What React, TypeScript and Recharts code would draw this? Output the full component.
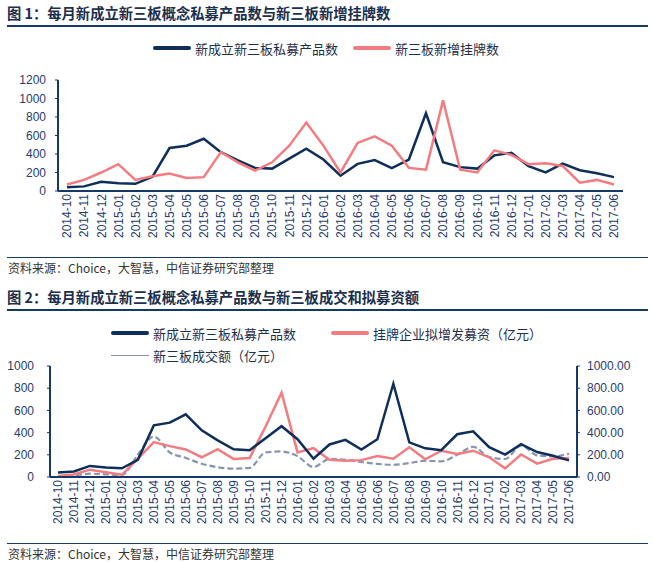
import React from 'react';
import { LineChart, Line, XAxis, YAxis } from 'recharts';

const months = [
  '2014-10', '2014-11', '2014-12', '2015-01', '2015-02', '2015-03', '2015-04', '2015-05',
  '2015-06', '2015-07', '2015-08', '2015-09', '2015-10', '2015-11', '2015-12', '2016-01',
  '2016-02', '2016-03', '2016-04', '2016-05', '2016-06', '2016-07', '2016-08', '2016-09',
  '2016-10', '2016-11', '2016-12', '2017-01', '2017-02', '2017-03', '2017-04', '2017-05',
  '2017-06',
];

// 新成立新三板私募产品数
const newFunds = [
  40, 50, 100, 85, 78, 155, 465, 490, 565, 420, 330, 250, 242, 350, 458, 340,
  165, 293, 335, 248, 340, 840, 312, 258, 242, 385, 412, 268, 202, 296, 225, 192,
  150,
];

// 新三板新增挂牌数
const newListings = [
  70, 120, 200, 290, 120, 160, 190, 140, 150, 420, 310, 220, 310, 490, 740, 490,
  200, 520, 590, 490, 250, 230, 980, 230, 200, 440, 390, 290, 300, 270, 90, 120,
  70,
];

// 挂牌企业拟增发募资（亿元）
const placementPlans = [
  10, 22, 66, 42, 20, 165, 314, 278, 248, 178, 251, 162, 171, 455, 760, 222,
  260, 155, 147, 152, 188, 165, 268, 160, 237, 207, 237, 178, 78, 203, 120, 165,
  172,
];

// 新三板成交额（亿元）
const turnover = [
  6, 15, 30, 24, 18, 200, 365, 221, 172, 120, 88, 76, 82, 222, 230, 188,
  90, 162, 155, 135, 118, 110, 126, 147, 141, 201, 272, 180, 162, 283, 195, 186,
  210,
];

const ticks1 = [0, 200, 400, 600, 800, 1000, 1200];
const ticks2 = [0, 200, 400, 600, 800, 1000];

const NAVY = '#0f2f5b';
const PINK = '#f47c80';
const GREY = '#8796ad';
const AXIS = '#14386a';
const TEXT = '#1f3d6d';
const CJK = '"Noto Sans CJK SC", sans-serif';
const LATIN = '"Liberation Sans", Arial, sans-serif';

const data1 = months.map((m, i) => ({ month: m, funds: newFunds[i], listings: newListings[i] }));
const data2 = months.map((m, i) => ({
  month: m,
  funds: newFunds[i],
  plans: placementPlans[i],
  turnover: turnover[i],
}));

const MonthTick = (props: any) => {
  const { x, y, payload } = props;
  return (
    <text
      x={x}
      y={y}
      transform={`rotate(-90, ${x}, ${y})`}
      textAnchor="end"
      dy="0.36em"
      fill={TEXT}
      fontSize={12}
      fontFamily={LATIN}
    >
      {payload.value}
    </text>
  );
};

const Title = ({ top, text }: { top: number; text: string }) => (
  <>
    <div
      style={{
        position: 'absolute', left: 7, top: top - 10, fontSize: 14.3, fontWeight: 700,
        color: '#1c2f4d', fontFamily: CJK, lineHeight: '20px', whiteSpace: 'nowrap',
      }}
    >
      {text}
    </div>
    <div style={{ position: 'absolute', left: 7, top: top + 12, width: 641, height: 1.5, background: AXIS }} />
  </>
);

const Source = ({ top }: { top: number }) => (
  <>
    <div style={{ position: 'absolute', left: 7, top, width: 641, height: 1, background: AXIS }} />
    <div
      style={{
        position: 'absolute', left: 8, top: top + 3, fontSize: 12, color: '#333',
        fontFamily: CJK, lineHeight: '16px', whiteSpace: 'nowrap',
      }}
    >
      资料来源：Choice，大智慧，中信证券研究部整理
    </div>
  </>
);

const LegendItem = ({ left, top, color, thick, label }: any) => (
  <div style={{ position: 'absolute', left, top: top - 9, height: 18, display: 'flex', alignItems: 'center', whiteSpace: 'nowrap' }}>
    <div style={{ width: 38, height: thick ? 4 : 1, background: color, borderRadius: thick ? 2 : 0, marginRight: 4 }} />
    <span style={{ fontSize: 13, color: '#1c2f4d', fontFamily: CJK }}>{label}</span>
  </div>
);

export default function App() {
  return (
    <div style={{ position: 'absolute', left: 0, top: 0, width: 653, height: 562, background: '#fff', overflow: 'hidden' }}>
      <Title top={13} text="图 1：每月新成立新三板概念私募产品数与新三板新增挂牌数" />
      <LegendItem left={153} top={48} color={NAVY} thick label="新成立新三板私募产品数" />
      <LegendItem left={353} top={48} color={PINK} thick label="新三板新增挂牌数" />

      <div style={{ position: 'absolute', left: 0, top: 70 }}>
        <LineChart width={653} height={181} data={data1} margin={{ top: 10, right: 30, left: 18, bottom: 0 }}>
          <XAxis
            dataKey="month"
            interval={0}
            height={60}
            padding={{ left: 9, right: 9 }}
            tick={<MonthTick />}
            tickLine={false}
            tickSize={3}
            tickMargin={0}
            axisLine={{ stroke: AXIS, strokeWidth: 2 }}
          />
          <YAxis
            domain={[0, 1200]}
            ticks={ticks1}
            interval={0}
            width={40}
            tick={{ fill: TEXT, fontSize: 12, fontFamily: LATIN }}
            tickLine={{ stroke: AXIS }}
            tickSize={3}
            tickMargin={9}
            axisLine={{ stroke: AXIS, strokeWidth: 2 }}
          />
          <Line dataKey="funds" stroke={NAVY} strokeWidth={2.5} dot={false} type="linear" isAnimationActive={false} />
          <Line dataKey="listings" stroke={PINK} strokeWidth={2.5} dot={false} type="linear" isAnimationActive={false} />
        </LineChart>
      </div>

      <Source top={257} />

      <Title top={297} text="图 2：每月新成立新三板概念私募产品数与新三板成交和拟募资额" />
      <LegendItem left={111} top={333} color={NAVY} thick label="新成立新三板私募产品数" />
      <LegendItem left={331} top={333} color={PINK} thick label="挂牌企业拟增发募资（亿元）" />
      <LegendItem left={111} top={355} color={GREY} label="新三板成交额（亿元）" />

      <div style={{ position: 'absolute', left: 0, top: 356 }}>
        <LineChart width={653} height={181} data={data2} margin={{ top: 10, right: 16, left: 10, bottom: 0 }}>
          <XAxis
            dataKey="month"
            interval={0}
            height={60}
            padding={{ left: 8, right: 8 }}
            tick={<MonthTick />}
            tickLine={false}
            tickSize={3}
            tickMargin={0}
            axisLine={{ stroke: AXIS, strokeWidth: 2 }}
          />
          <YAxis
            yAxisId="left"
            domain={[0, 1000]}
            ticks={ticks2}
            interval={0}
            width={40}
            tick={{ fill: TEXT, fontSize: 12, fontFamily: LATIN }}
            tickLine={{ stroke: AXIS }}
            tickSize={3}
            tickMargin={13}
            axisLine={{ stroke: AXIS, strokeWidth: 2 }}
          />
          <YAxis
            yAxisId="right"
            orientation="right"
            domain={[0, 1000]}
            ticks={ticks2}
            interval={0}
            width={60}
            tickFormatter={(v: number) => v.toFixed(2)}
            tick={{ fill: TEXT, fontSize: 12, fontFamily: LATIN }}
            tickLine={{ stroke: AXIS }}
            tickSize={3}
            tickMargin={7}
            axisLine={{ stroke: AXIS, strokeWidth: 2 }}
          />
          <Line yAxisId="right" dataKey="turnover" stroke={GREY} strokeWidth={2.2} strokeDasharray="6 3" dot={false} type="monotone" isAnimationActive={false} />
          <Line yAxisId="right" dataKey="plans" stroke={PINK} strokeWidth={2.5} dot={false} type="linear" isAnimationActive={false} />
          <Line yAxisId="left" dataKey="funds" stroke={NAVY} strokeWidth={2.5} dot={false} type="linear" isAnimationActive={false} />
        </LineChart>
      </div>

      <Source top={543} />
    </div>
  );
}
